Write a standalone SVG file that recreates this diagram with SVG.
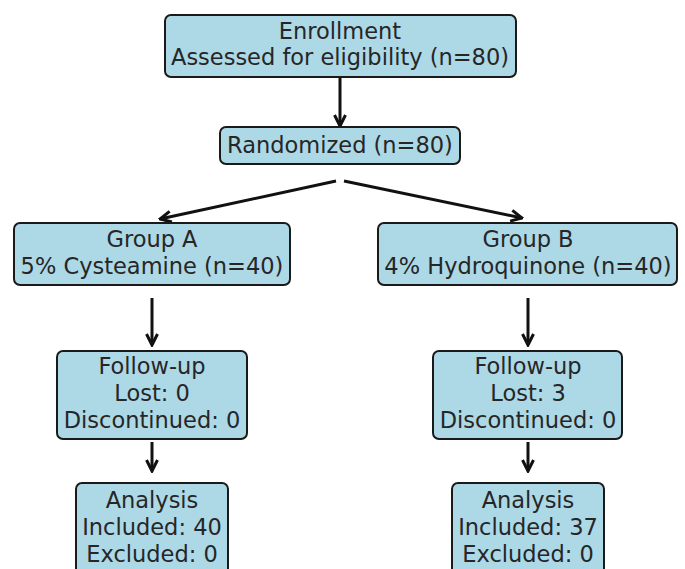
<svg xmlns="http://www.w3.org/2000/svg" width="685" height="569" viewBox="0 0 685 569">
<defs>
<style>
.box{fill:#ADD8E6;stroke:#1a1a1a;stroke-width:2}
.t{font-family:"DejaVu Sans",sans-serif;font-size:22.5px;fill:#262626;text-anchor:middle}
.c{stroke:#111;stroke-width:3;fill:none}
</style>
<marker id="ah" viewBox="0 0 14 14" refX="12.5" refY="7" markerWidth="14" markerHeight="14" markerUnits="userSpaceOnUse" orient="auto">
<path d="M1.5,1.5 L12.5,7 L1.5,12.5" fill="none" stroke="#111" stroke-width="3"/>
</marker>
</defs>
<rect width="685" height="569" fill="#fff"/>
<g id="connectors">
<line class="c" x1="340" y1="78" x2="340" y2="126" marker-end="url(#ah)"/>
<line class="c" x1="336" y1="181" x2="160" y2="219" marker-end="url(#ah)"/>
<line class="c" x1="344" y1="181" x2="522" y2="218" marker-end="url(#ah)"/>
<line class="c" x1="152" y1="298" x2="152" y2="345" marker-end="url(#ah)"/>
<line class="c" x1="528" y1="298" x2="528" y2="345" marker-end="url(#ah)"/>
<line class="c" x1="152" y1="442" x2="152" y2="471" marker-end="url(#ah)"/>
<line class="c" x1="528" y1="442" x2="528" y2="471" marker-end="url(#ah)"/>
</g>
<g id="enrollment">
<rect class="box" x="165" y="15" width="351" height="62" rx="6"/>
<text class="t" x="340" y="39">Enrollment</text>
<text class="t" x="340" y="65">Assessed for eligibility (n=80)</text>
</g>
<g id="randomized">
<rect class="box" x="220" y="127" width="240" height="37" rx="6"/>
<text class="t" x="340" y="153">Randomized (n=80)</text>
</g>
<g id="groupA">
<rect class="box" x="14" y="223" width="276" height="62" rx="6"/>
<text class="t" x="152" y="247">Group A</text>
<text class="t" x="152" y="274">5% Cysteamine (n=40)</text>
</g>
<g id="groupB">
<rect class="box" x="378" y="223" width="299" height="62" rx="6"/>
<text class="t" x="528" y="247">Group B</text>
<text class="t" x="528" y="274">4% Hydroquinone (n=40)</text>
</g>
<g id="followupA">
<rect class="box" x="57" y="351" width="190" height="88" rx="6"/>
<text class="t" x="152" y="374">Follow-up</text>
<text class="t" x="152" y="401">Lost: 0</text>
<text class="t" x="152" y="428">Discontinued: 0</text>
</g>
<g id="followupB">
<rect class="box" x="433" y="351" width="189" height="88" rx="6"/>
<text class="t" x="528" y="374">Follow-up</text>
<text class="t" x="528" y="401">Lost: 3</text>
<text class="t" x="528" y="428">Discontinued: 0</text>
</g>
<g id="analysisA">
<rect class="box" x="76" y="483" width="152" height="100" rx="6"/>
<text class="t" x="152" y="508">Analysis</text>
<text class="t" x="152" y="535">Included: 40</text>
<text class="t" x="152" y="562">Excluded: 0</text>
</g>
<g id="analysisB">
<rect class="box" x="452" y="483" width="152" height="100" rx="6"/>
<text class="t" x="528" y="508">Analysis</text>
<text class="t" x="528" y="535">Included: 37</text>
<text class="t" x="528" y="562">Excluded: 0</text>
</g>
</svg>
